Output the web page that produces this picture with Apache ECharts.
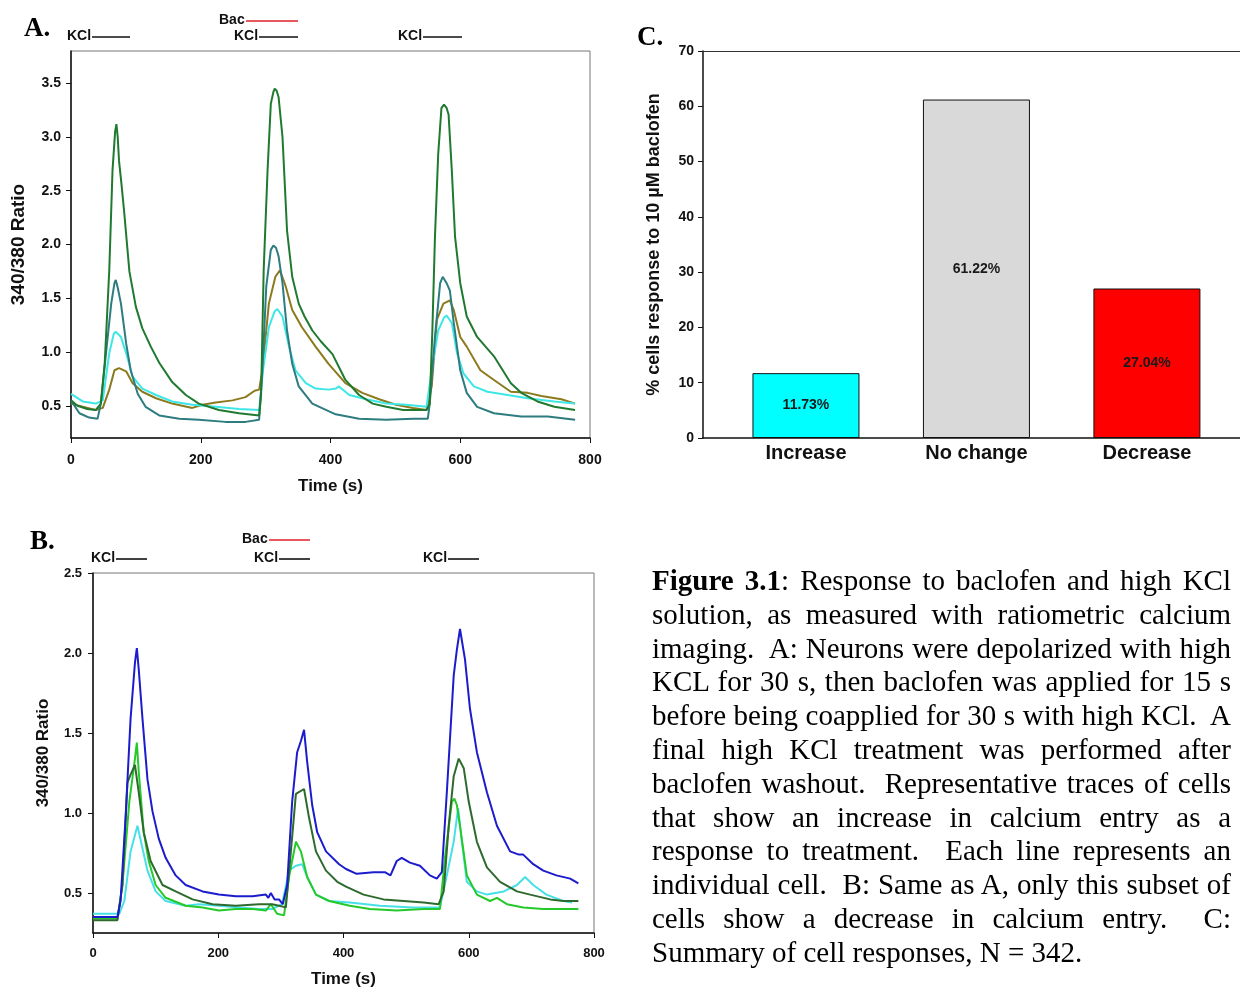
<!DOCTYPE html>
<html><head><meta charset="utf-8">
<script src="https://cdn.jsdelivr.net/npm/echarts@6/dist/echarts.min.js"></script>
<style>
html,body{margin:0;padding:0;background:#fff;}
#chart{position:absolute;left:0;top:0;width:1240px;height:989px;}
#caption{position:absolute;left:652px;top:564px;width:579px;font-family:"Liberation Serif","Times New Roman",serif;font-size:29px;line-height:33.8px;color:#000;}
#caption div{white-space:nowrap;text-align:justify;text-align-last:justify;}
#caption div.last{text-align:left;text-align-last:left;}
</style></head><body>
<div id="chart"></div>
<div id="caption"></div>
<script>
// ---------- Panel A traces: [time (s), 340/380 ratio] ----------
const aDarkGreen = [[0,0.55],[10,0.50],[25,0.47],[38,0.46],[46,0.52],[52,0.9],[59,1.76],[64,2.69],[68,3.05],[70,3.12],[72,3.0],[74,2.78],[78,2.55],[82,2.3],[90,1.75],[100,1.42],[110,1.22],[123,1.05],[136,0.9],[156,0.72],[177,0.6],[197,0.52],[228,0.46],[259,0.43],[290,0.41],[293,0.6],[297,1.76],[303,2.69],[308,3.31],[312,3.42],[314,3.45],[317,3.43],[320,3.37],[326,3.0],[333,2.13],[341,1.70],[351,1.45],[360,1.33],[372,1.20],[385,1.10],[403,0.98],[423,0.74],[444,0.60],[465,0.52],[486,0.49],[512,0.46],[548,0.46],[553,0.52],[557,1.2],[561,2.07],[566,2.84],[571,3.27],[575,3.30],[579,3.27],[582,3.21],[587,2.69],[592,2.07],[600,1.64],[610,1.33],[626,1.14],[652,0.96],[678,0.71],[694,0.62],[719,0.54],[745,0.49],[777,0.46]];
const aTeal = [[0,0.55],[13,0.43],[28,0.39],[41,0.38],[46,0.52],[54,0.99],[62,1.45],[67,1.64],[69,1.67],[72,1.6],[77,1.45],[85,1.08],[92,0.83],[103,0.61],[115,0.49],[136,0.41],[167,0.38],[197,0.37],[238,0.35],[269,0.35],[290,0.37],[295,0.83],[301,1.61],[308,1.95],[312,1.99],[316,1.97],[320,1.89],[326,1.64],[333,1.20],[341,0.89],[351,0.68],[372,0.52],[397,0.45],[408,0.42],[444,0.38],[486,0.37],[527,0.38],[550,0.38],[553,0.52],[561,1.14],[569,1.64],[573,1.70],[579,1.64],[584,1.57],[590,1.27],[600,0.83],[610,0.62],[626,0.49],[652,0.43],[694,0.40],[735,0.40],[777,0.37]];
const aOlive = [[0,0.52],[18,0.49],[38,0.46],[49,0.48],[59,0.65],[67,0.83],[74,0.85],[85,0.82],[95,0.71],[110,0.63],[131,0.57],[156,0.52],[187,0.48],[203,0.51],[223,0.53],[249,0.55],[269,0.58],[283,0.64],[290,0.65],[295,0.83],[305,1.45],[315,1.70],[322,1.76],[331,1.61],[341,1.39],[356,1.23],[377,1.05],[397,0.89],[423,0.71],[449,0.62],[475,0.56],[501,0.51],[527,0.48],[548,0.46],[556,0.68],[564,1.30],[574,1.45],[584,1.48],[590,1.39],[600,1.14],[610,1.05],[631,0.83],[652,0.74],[678,0.63],[704,0.62],[725,0.59],[756,0.56],[777,0.52]];
const aCyan = [[0,0.61],[18,0.54],[38,0.52],[49,0.55],[59,0.99],[66,1.17],[69,1.19],[77,1.14],[85,0.99],[95,0.77],[110,0.66],[131,0.60],[156,0.54],[187,0.51],[223,0.49],[259,0.47],[290,0.46],[296,0.83],[305,1.23],[314,1.38],[318,1.40],[326,1.33],[336,1.05],[346,0.83],[362,0.71],[377,0.66],[397,0.65],[408,0.66],[413,0.68],[429,0.60],[455,0.56],[486,0.52],[517,0.51],[548,0.49],[556,0.83],[566,1.20],[575,1.32],[579,1.34],[587,1.27],[595,0.99],[605,0.80],[621,0.68],[642,0.63],[673,0.60],[704,0.57],[745,0.54],[777,0.52]];

// ---------- Panel B traces ----------
const bBlue = [[0,0.35],[39,0.35],[44,0.45],[52,0.97],[60,1.59],[67,1.94],[70,2.03],[73,1.90],[79,1.59],[87,1.21],[95,1.01],[105,0.84],[116,0.72],[132,0.61],[148,0.55],[175,0.51],[201,0.49],[228,0.48],[255,0.48],[276,0.49],[280,0.47],[284,0.50],[290,0.46],[297,0.46],[303,0.43],[305,0.43],[310,0.55],[318,1.07],[326,1.38],[332,1.45],[337,1.52],[342,1.32],[350,1.05],[358,0.88],[372,0.76],[393,0.68],[404,0.65],[421,0.62],[448,0.63],[466,0.63],[475,0.61],[485,0.70],[493,0.72],[506,0.69],[522,0.67],[538,0.61],[549,0.59],[552,0.60],[557,0.63],[565,1.13],[576,1.86],[581,2.02],[586,2.15],[594,1.96],[602,1.65],[613,1.38],[629,1.13],[645,0.92],[666,0.76],[680,0.74],[687,0.74],[703,0.68],[719,0.64],[740,0.61],[762,0.59],[775,0.56]];
const bDarkGreen = [[0,0.33],[39,0.33],[47,0.55],[55,1.19],[60,1.24],[67,1.30],[73,1.13],[81,0.88],[92,0.70],[111,0.55],[132,0.51],[159,0.46],[191,0.43],[228,0.42],[265,0.43],[286,0.43],[297,0.42],[308,0.41],[316,0.76],[324,1.12],[337,1.15],[345,0.97],[356,0.76],[372,0.64],[390,0.57],[404,0.54],[432,0.49],[464,0.46],[496,0.45],[528,0.44],[552,0.43],[560,0.51],[568,0.92],[576,1.23],[584,1.34],[592,1.28],[600,1.07],[613,0.82],[629,0.66],[650,0.57],[677,0.51],[698,0.49],[730,0.46],[751,0.45],[775,0.45]];
const bGreen = [[0,0.34],[39,0.34],[47,0.55],[58,1.07],[67,1.34],[70,1.44],[73,1.26],[81,0.88],[89,0.70],[100,0.55],[116,0.47],[148,0.42],[175,0.41],[201,0.39],[228,0.40],[255,0.40],[276,0.39],[284,0.43],[294,0.37],[305,0.36],[313,0.60],[324,0.82],[332,0.76],[342,0.60],[356,0.49],[377,0.45],[410,0.42],[442,0.40],[485,0.39],[528,0.40],[554,0.40],[562,0.72],[573,1.07],[577,1.09],[581,1.05],[586,0.92],[597,0.61],[613,0.49],[634,0.45],[645,0.47],[661,0.43],[687,0.41],[719,0.40],[751,0.40],[775,0.40]];
const bCyan = [[0,0.37],[42,0.37],[50,0.45],[60,0.76],[71,0.92],[79,0.78],[87,0.64],[100,0.51],[116,0.45],[148,0.42],[169,0.43],[201,0.42],[233,0.41],[265,0.40],[286,0.40],[302,0.43],[313,0.64],[324,0.67],[334,0.68],[342,0.60],[356,0.49],[377,0.45],[410,0.44],[458,0.42],[511,0.41],[554,0.41],[565,0.61],[576,0.82],[583,1.03],[589,0.82],[597,0.57],[613,0.51],[629,0.49],[656,0.51],[677,0.55],[690,0.60],[703,0.55],[724,0.49],[751,0.45],[765,0.44]];

// ---------- Panel C ----------
const categoriesC = ['Increase', 'No change', 'Decrease'];
const valuesC = [11.73, 61.22, 27.04];
const labelsC = ['11.73%', '61.22%', '27.04%'];
const colorsC = ['#00ffff', '#d9d9d9', '#ff0000'];

// ---------- tick labels ----------
const xTicks = [0, 200, 400, 600, 800];
const yTicksA = [0.5, 1.0, 1.5, 2.0, 2.5, 3.0, 3.5];
const yTicksB = [0.5, 1.0, 1.5, 2.0, 2.5];
const yTicksC = [0, 10, 20, 30, 40, 50, 60, 70];

const captionLines = [
  '<b>Figure 3.1</b>: Response to baclofen and high KCl',
  'solution, as measured with ratiometric calcium',
  'imaging.&nbsp; A: Neurons were depolarized with high',
  'KCL for 30 s, then baclofen was applied for 15 s',
  'before being coapplied for 30 s with high KCl.&nbsp; A',
  'final high KCl treatment was performed after',
  'baclofen washout.&nbsp; Representative traces of cells',
  'that show an increase in calcium entry as a',
  'response to treatment.&nbsp; Each line represents an',
  'individual cell.&nbsp; B: Same as A, only this subset of',
  'cells show a decrease in calcium entry.&nbsp; C:',
  'Summary of cell responses, N = 342.'
];
document.getElementById('caption').innerHTML = captionLines.map((l, i) =>
  '<div' + (i === captionLines.length - 1 ? ' class="last"' : '') + '>' + l + '</div>').join('');

const SANS = 'Liberation Sans';

function trace(data, color, gi) {
  return { type: 'line', data: data, xAxisIndex: gi, yAxisIndex: gi, showSymbol: false, symbol: 'none',
    lineStyle: { color: color, width: 2 }, itemStyle: { color: color }, animation: false, z: 3 };
}

function timeAxis(gi, fs, titleFs, gap, margin) {
  return { gridIndex: gi, type: 'value', min: 0, max: 800, interval: 200,
    axisLine: { show: true, lineStyle: { color: '#111', width: 1.5 } },
    axisTick: { show: true, length: 5, lineStyle: { color: '#111' } },
    axisLabel: { customValues: xTicks, color: '#111', fontFamily: SANS, fontWeight: 'bold', fontSize: fs, margin: margin },
    splitLine: { show: false },
    name: 'Time (s)', nameLocation: 'middle', nameGap: gap,
    nameTextStyle: { color: '#111', fontFamily: SANS, fontWeight: 'bold', fontSize: titleFs } };
}

function ratioAxis(gi, min, max, ticks, fs, titleFs, gap, margin) {
  return { gridIndex: gi, type: 'value', min: min, max: max,
    axisLine: { show: true, lineStyle: { color: '#111', width: 1.5 } },
    axisTick: { show: true, length: 5, customValues: ticks, lineStyle: { color: '#111' } },
    axisLabel: { customValues: ticks, formatter: v => v.toFixed(1), color: '#111', fontFamily: SANS, fontWeight: 'bold', fontSize: fs, margin: margin },
    splitLine: { show: false },
    name: '340/380 Ratio', nameLocation: 'middle', nameGap: gap, nameRotate: 90,
    nameTextStyle: { color: '#111', fontFamily: SANS, fontWeight: 'bold', fontSize: titleFs } };
}

const ANN_FONT = 'bold 14px "Liberation Sans"';
function annText(txt, x, y, color) {
  return { type: 'text', left: x, top: y - 8, style: { text: txt, fill: color || '#111', font: ANN_FONT } };
}
function annLine(x1, x2, y, color) {
  return { type: 'line', shape: { x1: x1, y1: y, x2: x2, y2: y }, style: { stroke: color || '#111', lineWidth: 1.6 } };
}

const chart = echarts.init(document.getElementById('chart'), null, { renderer: 'canvas' });
chart.setOption({
  backgroundColor: '#fff',
  animation: false,
  grid: [
    { left: 71, top: 51, width: 519, height: 387, show: true, borderColor: '#777', borderWidth: 1 },
    { left: 93, top: 573, width: 501, height: 362, show: true, borderColor: '#777', borderWidth: 1 },
    { left: 703, top: 51, width: 537, height: 387, show: false }
  ],
  xAxis: [
    timeAxis(0, 14, 17, 40, 15),
    timeAxis(1, 13, 17, 38, 14),
    { gridIndex: 2, type: 'value', min: 0.396, max: 3.546,
      axisLine: { show: true, lineStyle: { color: '#111', width: 1.5 } },
      axisTick: { show: false },
      axisLabel: { customValues: [1, 2, 3], formatter: v => categoriesC[Math.round(v) - 1], color: '#111', fontFamily: SANS, fontWeight: 'bold', fontSize: 20, margin: 5 },
      splitLine: { show: false } },
    { gridIndex: 2, type: 'value', min: 0.396, max: 3.546, position: 'top',
      axisLine: { show: true, lineStyle: { color: '#333', width: 1.2 } },
      axisTick: { show: false }, axisLabel: { show: false }, splitLine: { show: false } }
  ],
  yAxis: [
    ratioAxis(0, 0.2, 3.8, yTicksA, 14, 19, 43, 10),
    ratioAxis(1, 0.25, 2.5, yTicksB, 13, 17, 41, 11),
    { gridIndex: 2, type: 'value', min: 0, max: 70, interval: 10,
      axisLine: { show: true, lineStyle: { color: '#111', width: 1.5 } },
      axisTick: { show: true, length: 5, customValues: yTicksC, lineStyle: { color: '#111' } },
      axisLabel: { customValues: yTicksC, color: '#111', fontFamily: SANS, fontWeight: 'bold', fontSize: 14, margin: 9 },
      splitLine: { show: false },
      name: '% cells response to 10 \u00b5M baclofen', nameLocation: 'middle', nameGap: 40, nameRotate: 90,
      nameTextStyle: { color: '#111', fontFamily: SANS, fontWeight: 'bold', fontSize: 18 } }
  ],
  series: [
    trace(aOlive, '#8c7a1e', 0),
    trace(aCyan, '#3ee6e6', 0),
    trace(aTeal, '#2c7c80', 0),
    trace(aDarkGreen, '#1f7a30', 0),
    trace(bCyan, '#48e0e8', 1),
    trace(bGreen, '#25c92a', 1),
    trace(bDarkGreen, '#2e6a2e', 1),
    trace(bBlue, '#1c1ccc', 1),
    { type: 'bar', xAxisIndex: 2, yAxisIndex: 2, barWidth: 107, animation: false,
      data: valuesC.map((v, i) => ({ value: [i + 1, v], itemStyle: { color: colorsC[i], borderColor: '#111', borderWidth: 1 } })),
      label: { show: true, position: 'inside', formatter: p => labelsC[p.dataIndex], color: '#1a1a1a', fontFamily: SANS, fontWeight: 'bold', fontSize: 14 } }
  ],
  graphic: [
    { type: 'text', left: 24, top: 16, style: { text: 'A.', fill: '#000', font: 'bold 27px "Liberation Serif"' } },
    { type: 'text', left: 30, top: 529, style: { text: 'B.', fill: '#000', font: 'bold 27px "Liberation Serif"' } },
    { type: 'text', left: 637, top: 25, style: { text: 'C.', fill: '#000', font: 'bold 27px "Liberation Serif"' } },
    annText('KCl', 67, 37), annLine(92, 130, 37),
    annText('Bac', 219, 21), annLine(246, 298, 21, '#e0202a'),
    annText('KCl', 234, 37), annLine(259, 298, 37),
    annText('KCl', 398, 37), annLine(423, 462, 37),
    annText('KCl', 91, 559), annLine(116, 147, 559),
    annText('Bac', 242, 540), annLine(269, 310, 540, '#e0202a'),
    annText('KCl', 254, 559), annLine(279, 310, 559),
    annText('KCl', 423, 559), annLine(448, 479, 559)
  ]
});
</script>
</body></html>
